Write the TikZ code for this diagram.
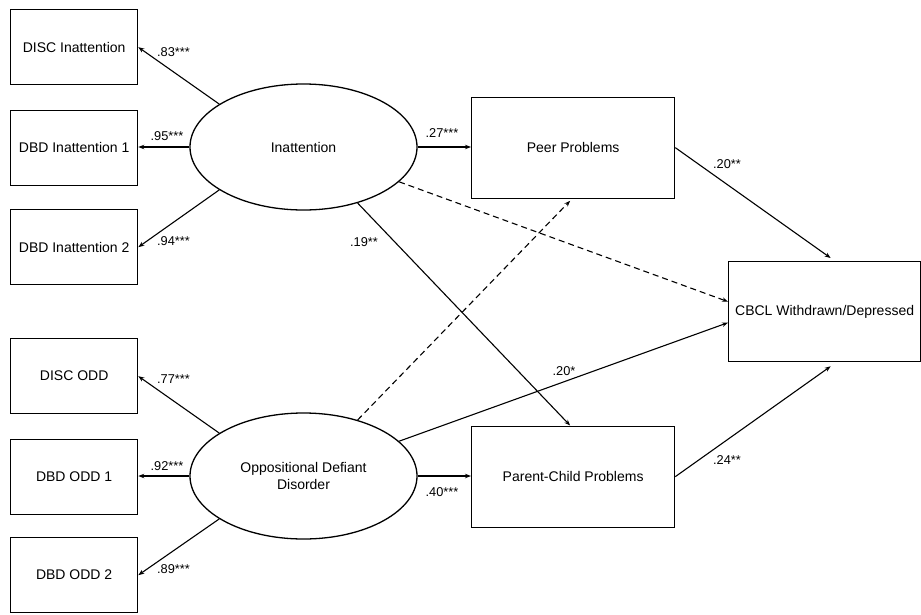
\documentclass[tikz,border=0pt]{standalone}
\usepackage{fontspec}
\setmainfont{Liberation Sans}
\usetikzlibrary{shapes.geometric,arrows.meta,calc}
\begin{document}
\begin{tikzpicture}[x=1pt,y=-1pt,
  every node/.style={font=\fontsize{14}{16.5}\selectfont},
  box/.style={draw,line width=1.3pt,inner sep=0pt,anchor=north west},
  latent/.style={draw,ellipse,line width=1.3pt,minimum width=227pt,minimum height=126pt,inner sep=0pt,align=center},
  lbl/.style={font=\fontsize{12.8}{14}\selectfont,inner sep=0pt},
  path/.style={line width=1.1pt,-{Stealth[length=6pt,width=4.5pt]}},
  dpath/.style={path,dash pattern=on 6pt off 4pt}]
\useasboundingbox (0,0) rectangle (921,614);
% indicator boxes
\node[box,minimum width=127pt,minimum height=75pt] (discI) at (10,9) {DISC Inattention};
\node[box,minimum width=127pt,minimum height=75pt] (dbdI1) at (10,109.5) {DBD Inattention 1};
\node[box,minimum width=127pt,minimum height=75pt] (dbdI2) at (10,209) {DBD Inattention 2};
\node[box,minimum width=127pt,minimum height=75pt] (discO) at (10,338) {DISC ODD};
\node[box,minimum width=127pt,minimum height=75pt] (dbdO1) at (10,438.5) {DBD ODD 1};
\node[box,minimum width=127pt,minimum height=75pt] (dbdO2) at (10,537) {DBD ODD 2};
% latents
\node[latent] (inatt) at (303.5,147) {Inattention};
\node[latent] (odd) at (303.5,476) {Oppositional Defiant\\Disorder};
% mediators / outcome
\node[box,minimum width=203pt,minimum height=101pt] (peer) at (471,96.5) {Peer Problems};
\node[box,minimum width=203pt,minimum height=101pt] (pc) at (471,425.5) {Parent-Child Problems};
\node[box,minimum width=192pt,minimum height=100pt] (cbcl) at (728,261) {CBCL Withdrawn/Depressed};
% loadings
\draw[path] (inatt.153) -- (discI.east);
\draw[path] (inatt.west) -- (inatt.west -| dbdI1.east);
\draw[path] (inatt.207) -- (dbdI2.east);
\draw[path] (odd.153) -- (discO.east);
\draw[path] (odd.west) -- (odd.west -| dbdO1.east);
\draw[path] (odd.207) -- (dbdO2.east);
% structural paths
\draw[path] (inatt.east) -- (inatt.east -| peer.west);
\draw[path] (odd.east) -- (odd.east -| pc.west);
\draw[path] (inatt.314) -- ($(pc.north)+(-3,0)$);
\draw[dpath] (inatt.340) -- ($(cbcl.west)+(0,-10)$);
\draw[dpath] (odd.46) -- ($(peer.south)+(-3,2)$);
\draw[path] (odd.20.5) -- ($(cbcl.west)+(0,11)$);
\draw[path] (peer.east) -- ($(cbcl.north)+(6,-3)$);
\draw[path] (pc.east) -- ($(cbcl.south)+(6,4)$);
% labels
\node[lbl] (l1) at (173.5,52) {.83***};
\node[lbl] (l2) at (167,136) {.95***};
\node[lbl] (l3) at (173.5,241) {.94***};
\node[lbl] (l4) at (173.5,379) {.77***};
\node[lbl] (l5) at (167,466) {.92***};
\node[lbl] (l6) at (173.5,569) {.89***};
\node[lbl] (l7) at (442,133) {.27***};
\node[lbl] (l8) at (442,492) {.40***};
\node[lbl] (l9) at (364,242) {.19**};
\node[lbl] (l10) at (564,371) {.20*};
\node[lbl] (l11) at (727,164) {.20**};
\node[lbl] (l12) at (727,460) {.24**};
\end{tikzpicture}
\end{document}
